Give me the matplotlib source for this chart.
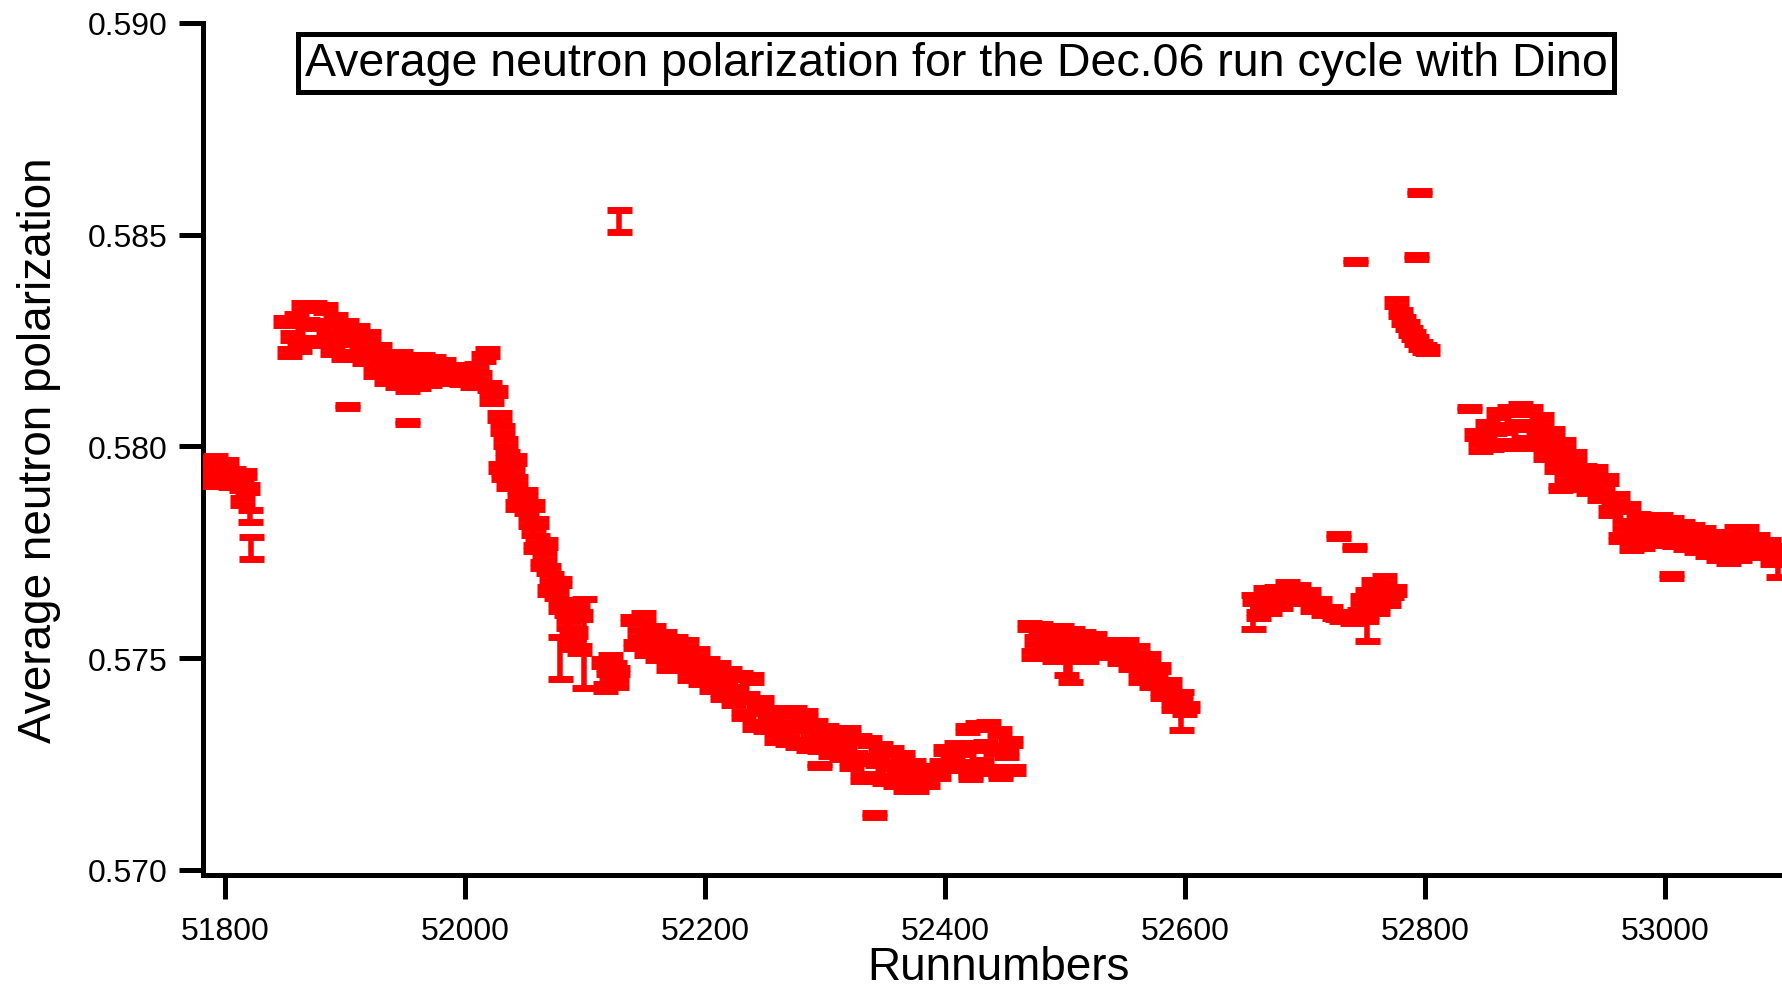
import matplotlib
matplotlib.use("Agg")
import matplotlib.pyplot as plt
from matplotlib.ticker import FixedLocator, FormatStrFormatter

plt.rcParams["font.family"] = ["Liberation Sans", "DejaVu Sans"]

# Data (run number, average polarization)
ERR = 0.00008

runs_a = [51783, 51786, 51789, 51792, 51795, 51798, 51801, 51804, 51807, 51810, 51813, 51814, 51816, 51818]
pol_a = [0.57965, 0.57915, 0.57945, 0.57970, 0.57918, 0.57942, 0.57960, 0.57912, 0.57938, 0.57925, 0.57905, 0.57870, 0.57935, 0.57900]

runs_b = [51850, 51853, 51856, 51859, 51862, 51865, 51868, 51871, 51874, 51877,
          51880, 51883, 51886, 51889, 51892, 51895, 51898, 51901, 51904, 51907,
          51910, 51913, 51916, 51919, 51922, 51925, 51928, 51931, 51934, 51937,
          51940, 51943, 51946, 51949, 51952, 51955, 51958, 51961, 51964, 51967,
          51970, 51973, 51976, 51979, 51982, 51985, 51988, 51991, 51994, 51997,
          52000, 52003, 52006, 52009, 52012, 52015, 52018, 52020]
pol_b = [0.58295, 0.58222, 0.58260, 0.58305, 0.58234, 0.58331, 0.58290, 0.58248, 0.58331, 0.58288,
         0.58248, 0.58326, 0.58279, 0.58227, 0.58302, 0.58260, 0.58215, 0.58288, 0.58250, 0.58215,
         0.58276, 0.58240, 0.58205, 0.58262, 0.58222, 0.58175, 0.58231, 0.58189, 0.58158, 0.58215,
         0.58184, 0.58149, 0.58215, 0.58179, 0.58139, 0.58208, 0.58175, 0.58146, 0.58208, 0.58179,
         0.58153, 0.58203, 0.58179, 0.58158, 0.58196, 0.58175, 0.58158, 0.58184, 0.58170, 0.58156,
         0.58179, 0.58167, 0.58149, 0.58186, 0.58165, 0.58210, 0.58222, 0.58141]

runs_c = [52022, 52025, 52028, 52029, 52031, 52032, 52033, 52035, 52036, 52037,
          52039, 52041, 52042, 52043, 52045, 52048, 52050, 52051, 52054, 52056,
          52057, 52058, 52059, 52060, 52063, 52064, 52066, 52067, 52069, 52070,
          52072, 52074, 52076, 52078, 52079, 52081, 52084, 52086, 52088, 52090,
          52092, 52093, 52095, 52096]
pol_c = [0.5811, 0.5813, 0.5807, 0.5795, 0.5804, 0.5793, 0.5801, 0.5798, 0.5791, 0.5796,
         0.5794, 0.5797, 0.5792, 0.5786, 0.5789, 0.5787, 0.5789, 0.5785, 0.5782, 0.5786,
         0.5780, 0.5776, 0.5782, 0.5778, 0.5776, 0.5772, 0.5774, 0.5777, 0.5771, 0.5766,
         0.5769, 0.5767, 0.5765, 0.5768, 0.5762, 0.5763, 0.5761, 0.5758, 0.5755, 0.5753,
         0.5756, 0.5763, 0.5752, 0.5760]

runs_d = [52115, 52117, 52119, 52121, 52122, 52124, 52126, 52127]
pol_d = [0.5749, 0.5743, 0.5747, 0.5750, 0.5745, 0.5748, 0.5744, 0.5747]

runs_e = [52139, 52142, 52145, 52148, 52151, 52154, 52157, 52160, 52163, 52166,
          52169, 52172, 52175, 52178, 52181, 52184, 52187, 52190, 52193, 52196,
          52199, 52202, 52205, 52208, 52211, 52214, 52217, 52220, 52223, 52226,
          52229, 52232, 52235, 52238, 52241, 52244, 52247, 52250, 52253, 52256,
          52259, 52262, 52265, 52268, 52271, 52274, 52277, 52280, 52283, 52286,
          52289, 52292, 52295, 52298, 52301, 52304, 52307, 52310, 52313, 52316,
          52319, 52322, 52325, 52328, 52331, 52334, 52337, 52340, 52343, 52346,
          52349, 52352, 52355, 52358, 52361, 52364, 52367, 52370, 52373, 52376,
          52379, 52382, 52385, 52388, 52391, 52394, 52397, 52400, 52403, 52406,
          52409, 52412, 52415, 52418, 52421, 52424, 52427, 52430, 52433, 52436,
          52439, 52442, 52445, 52448, 52451, 52454, 52457]
pol_e = [0.57590, 0.57531, 0.57558, 0.57598, 0.57515, 0.57543, 0.57567, 0.57503, 0.57528, 0.57555,
         0.57480, 0.57513, 0.57543, 0.57480, 0.57505, 0.57534, 0.57456, 0.57489, 0.57513, 0.57446,
         0.57470, 0.57491, 0.57430, 0.57450, 0.57480, 0.57411, 0.57438, 0.57466, 0.57397, 0.57424,
         0.57458, 0.57366, 0.57407, 0.57453, 0.57342, 0.57379, 0.57399, 0.57335, 0.57354, 0.57375,
         0.57311, 0.57340, 0.57371, 0.57306, 0.57339, 0.57375, 0.57299, 0.57339, 0.57368, 0.57292,
         0.57320, 0.57344, 0.57290, 0.57313, 0.57333, 0.57278, 0.57301, 0.57328, 0.57269, 0.57297,
         0.57328, 0.57248, 0.57269, 0.57309, 0.57217, 0.57261, 0.57304, 0.57219, 0.57257, 0.57290,
         0.57214, 0.57248, 0.57281, 0.57207, 0.57239, 0.57269, 0.57195, 0.57226, 0.57250, 0.57195,
         0.57218, 0.57238, 0.57207, 0.57224, 0.57236, 0.57226, 0.57250, 0.57283, 0.57243, 0.57270,
         0.57292, 0.57248, 0.57281, 0.57333, 0.57240, 0.57291, 0.57340, 0.57252, 0.57295, 0.57342,
         0.57236, 0.57285, 0.57326, 0.57236, 0.57274, 0.57302, 0.57236]

runs_f = [52470, 52473, 52476, 52479, 52482, 52485, 52488, 52491, 52494, 52497,
          52500, 52503, 52506, 52509, 52512, 52515, 52518, 52521, 52524, 52527,
          52530, 52533, 52536, 52539, 52542, 52545, 52548, 52551, 52554, 52557,
          52560, 52563, 52566, 52569, 52572, 52575, 52578, 52581, 52584, 52587,
          52590, 52593, 52596, 52599, 52602]
pol_f = [0.57576, 0.57508, 0.57542, 0.57572, 0.57508, 0.57537, 0.57567, 0.57501, 0.57534, 0.57567,
         0.57501, 0.57533, 0.57562, 0.57501, 0.57529, 0.57553, 0.57501, 0.57526, 0.57548, 0.57510,
         0.57527, 0.57534, 0.57520, 0.57521, 0.57536, 0.57496, 0.57515, 0.57536, 0.57482, 0.57498,
         0.57520, 0.57453, 0.57477, 0.57501, 0.57439, 0.57463, 0.57477, 0.57413, 0.57427, 0.57441,
         0.57385, 0.57400, 0.57406, 0.57377, 0.57385]

runs_g = [52658, 52661, 52664, 52667, 52670, 52673, 52676, 52679, 52682, 52685,
          52688, 52691, 52694, 52697, 52700, 52703, 52706, 52709, 52712, 52715,
          52718, 52721, 52724, 52727, 52730, 52733, 52736, 52739, 52742, 52745,
          52748, 52751, 52754, 52757, 52760, 52763, 52766, 52769, 52772, 52774]
pol_g = [0.57638, 0.57602, 0.57631, 0.57657, 0.57614, 0.57640, 0.57661, 0.57626, 0.57652, 0.57671,
         0.57650, 0.57663, 0.57666, 0.57638, 0.57645, 0.57652, 0.57619, 0.57626, 0.57631, 0.57609,
         0.57613, 0.57612, 0.57602, 0.57601, 0.57595, 0.57600, 0.57595, 0.57590, 0.57595, 0.57607,
         0.57638, 0.57595, 0.57631, 0.57676, 0.57614, 0.57652, 0.57685, 0.57633, 0.57652, 0.57659]

runs_h = [52776, 52779, 52782, 52785, 52788, 52790, 52793, 52796, 52799, 52802]
pol_h = [0.58340, 0.58315, 0.58298, 0.58285, 0.58272, 0.58262, 0.58250, 0.58238, 0.58232, 0.58228]

runs_i = [52843, 52846, 52849, 52852, 52855, 52858, 52861, 52864, 52867, 52870,
          52873, 52876, 52879, 52882, 52885, 52888, 52891, 52894, 52897, 52900,
          52903, 52906, 52909, 52912, 52915, 52918, 52921, 52924, 52927, 52930,
          52933, 52936, 52939, 52942, 52945, 52948, 52951, 52954, 52957, 52960,
          52963, 52966, 52969, 52972, 52975, 52978, 52981, 52984, 52987, 52990,
          52993, 52996, 52999, 53002, 53005, 53008, 53011, 53014, 53017, 53020,
          53023, 53026, 53029, 53032, 53035, 53038, 53041, 53044, 53047, 53050,
          53053, 53056, 53059, 53062, 53065, 53068, 53071, 53074, 53077, 53080,
          53083, 53086, 53089, 53092, 53095]
pol_i = [0.58028, 0.57997, 0.58020, 0.58049, 0.58002, 0.58039, 0.58078, 0.58004, 0.58042, 0.58085,
         0.58004, 0.58050, 0.58092, 0.58011, 0.58050, 0.58085, 0.58004, 0.58035, 0.58066, 0.57978,
         0.58007, 0.58033, 0.57950, 0.57977, 0.58007, 0.57926, 0.57957, 0.57978, 0.57907, 0.57925,
         0.57945, 0.57898, 0.57922, 0.57943, 0.57881, 0.57903, 0.57922, 0.57846, 0.57860, 0.57879,
         0.57784, 0.57816, 0.57855, 0.57763, 0.57800, 0.57832, 0.57768, 0.57801, 0.57827, 0.57792,
         0.57807, 0.57829, 0.57775, 0.57800, 0.57822, 0.57773, 0.57793, 0.57813, 0.57766, 0.57786,
         0.57806, 0.57758, 0.57779, 0.57799, 0.57749, 0.57769, 0.57789, 0.57739, 0.57760, 0.57784,
         0.57732, 0.57765, 0.57801, 0.57739, 0.57773, 0.57801, 0.57749, 0.57770, 0.57784, 0.57747,
         0.57758, 0.57770, 0.57730, 0.57743, 0.57756]

# points with larger error bars
wide_runs = [51821, 51822, 52079, 52099, 52128, 52501, 52504, 52597, 52657, 52752, 53094]
wide_pol = [0.57836, 0.57760, 0.5750, 0.57535, 0.58532, 0.5748, 0.57487, 0.57375, 0.5761, 0.5760, 0.57725]
wide_err = [0.00014, 0.00026, 0.0005, 0.00105, 0.00026, 0.0002, 0.00042, 0.00045, 0.0004, 0.0006, 0.00033]

# isolated runs with tiny error bars
single_runs = [51902, 51952, 52295, 52341, 52421, 52446, 52728, 52741, 52742, 52793, 52795, 52837, 52913, 53005]
single_pol = [0.58094, 0.58056, 0.57247, 0.57130, 0.57219, 0.57220, 0.57789, 0.57761, 0.58437, 0.58447,
              0.58600, 0.58089, 0.57902, 0.57694]

x_ticks = [51800, 52000, 52200, 52400, 52600, 52800, 53000]
y_ticks = [0.570, 0.575, 0.580, 0.585, 0.590]

TITLE = "Average neutron polarization for the Dec.06 run cycle with Dino"


def draw(ax, runs, pol, err):
    ax.errorbar(runs, pol, yerr=err, fmt="none", ecolor="#ff0000",
                elinewidth=4, capsize=9, capthick=5, zorder=3)


fig = plt.figure(figsize=(17.82, 9.87), dpi=100)
ax = fig.add_axes([0.11364, 0.1120, 0.88636, 0.8637])

for r, p in [(runs_a, pol_a), (runs_b, pol_b), (runs_c, pol_c), (runs_d, pol_d),
             (runs_e, pol_e), (runs_f, pol_f), (runs_g, pol_g), (runs_h, pol_h),
             (runs_i, pol_i)]:
    draw(ax, r, p, ERR)
draw(ax, wide_runs, wide_pol, wide_err)
draw(ax, single_runs, single_pol, 0.00004)

ax.set_xlim(51781.2, 53097.7)
ax.set_ylim(0.56987, 0.5900)

ax.xaxis.set_major_locator(FixedLocator(x_ticks))
ax.yaxis.set_major_locator(FixedLocator(y_ticks))
ax.xaxis.set_major_formatter(FormatStrFormatter("%d"))
ax.yaxis.set_major_formatter(FormatStrFormatter("%.3f"))

for side in ["top", "right"]:
    ax.spines[side].set_visible(False)
for side in ["left", "bottom"]:
    ax.spines[side].set_linewidth(3.6)

ax.tick_params(axis="both", direction="out", length=17, width=3.6, labelsize=23)
ax.tick_params(axis="y", pad=8)
ax.tick_params(axis="x", pad=12)

ax.set_xlabel("Runnumbers", fontsize=33)
ax.set_ylabel("Average neutron polarization", fontsize=33)
ax.xaxis.set_label_coords(0.5037, -0.0815)
ax.yaxis.set_label_coords(-0.0898, 0.5)

fig.text(0.5365, 0.9347, TITLE, ha="center", va="center", fontsize=33.5,
         bbox=dict(boxstyle="square,pad=0.15", fc="white", ec="black", lw=3.6))

fig.savefig("out.png", dpi=100)
